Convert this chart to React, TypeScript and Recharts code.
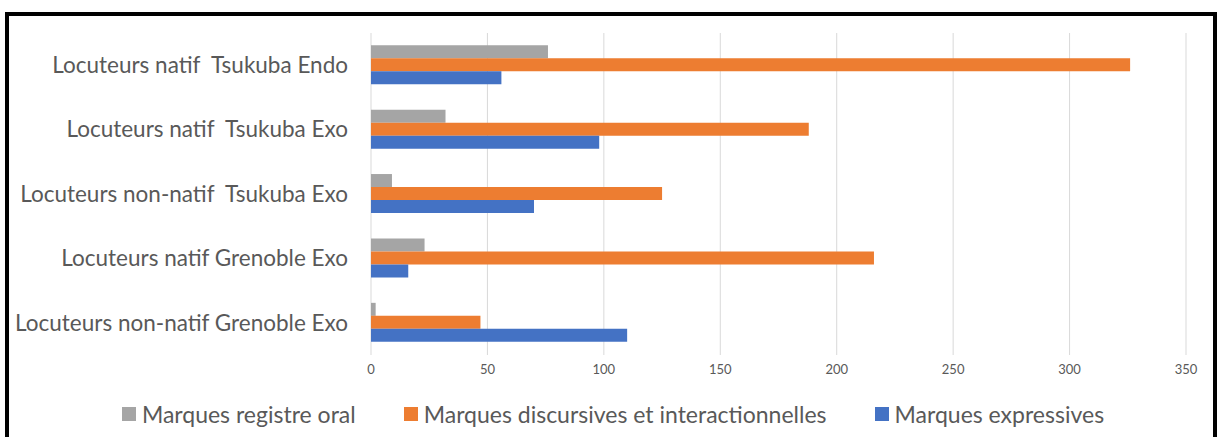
import { BarChart, Bar, XAxis, YAxis, CartesianGrid, Legend } from "recharts";

const CATEGORIES = [
  "Locuteurs natif  Tsukuba Endo",
  "Locuteurs natif  Tsukuba Exo",
  "Locuteurs non-natif  Tsukuba Exo",
  "Locuteurs natif Grenoble Exo",
  "Locuteurs non-natif Grenoble Exo",
];
const ORAL = [76, 32, 9, 23, 2];
const DISCURSIVE = [326, 188, 125, 216, 47];
const EXPRESSIVE = [56, 98, 70, 16, 110];
const X_TICKS = [0, 50, 100, 150, 200, 250, 300, 350];

const SERIES = [
  { key: "oral", name: "Marques registre oral", color: "#A5A5A5" },
  { key: "discursive", name: "Marques discursives et interactionnelles", color: "#ED7D31" },
  { key: "expressive", name: "Marques expressives", color: "#4472C4" },
];

const FONT = "Lato, 'Open Sans', sans-serif";
const TEXT = "#595959";

const data = CATEGORIES.map((c, i) => ({
  name: c,
  oral: ORAL[i],
  discursive: DISCURSIVE[i],
  expressive: EXPRESSIVE[i],
}));

// keep the double spaces of the original labels
function CatTick(props: any) {
  const { x, y, payload } = props;
  return (
    <text
      x={x}
      y={y}
      dy="0.35em"
      textAnchor="end"
      xmlSpace="preserve"
      style={{ whiteSpace: "pre" }}
      fontFamily={FONT}
      fontSize={22.5}
      fill={TEXT}
    >
      {payload.value}
    </text>
  );
}

function LegendBox() {
  return (
    <div style={{ display: "flex", justifyContent: "center", gap: 48, fontFamily: FONT, fontSize: 23, color: TEXT }}>
      {SERIES.map(s => (
        <div key={s.key} style={{ display: "flex", alignItems: "center", gap: 6 }}>
          <span style={{ width: 14, height: 14, background: s.color, display: "inline-block" }} />
          <span>{s.name}</span>
        </div>
      ))}
    </div>
  );
}

export default function App() {
  return (
    <div style={{ position: "absolute", left: 0, top: 0, width: 1220, height: 437, overflow: "hidden", background: "#fff" }}>
      <div style={{ position: "absolute", left: 5, top: 12, width: 1204, height: 440, border: "4px solid #000" }} />
      <div style={{ position: "absolute", left: 0, top: 0 }}>
        <BarChart
          layout="vertical"
          width={1220}
          height={437}
          data={data}
          margin={{ top: 33, right: 34, left: 0, bottom: 52 }}
          barCategoryGap="19%"
          barGap={0}
        >
          <CartesianGrid horizontal={false} stroke="#d9d9d9" strokeWidth={1} />
          <XAxis
            type="number"
            domain={[0, 350]}
            ticks={X_TICKS}
            axisLine={false}
            tickLine={false}
            tickSize={0}
            tickMargin={10}
            height={30}
            tick={{ fontFamily: FONT, fontSize: 13, fill: TEXT }}
          />
          <YAxis
            type="category"
            dataKey="name"
            width={371}
            axisLine={false}
            tickLine={false}
            tickSize={0}
            tickMargin={23}
            tick={<CatTick />}
          />
          <Legend
            layout="horizontal"
            verticalAlign="middle"
            align="center"
            content={() => <LegendBox />}
            wrapperStyle={{ position: "absolute", top: 400, left: 0, width: 1226 }}
          />
          {SERIES.map(s => (
            <Bar key={s.key} dataKey={s.key} name={s.name} fill={s.color} isAnimationActive={false} />
          ))}
        </BarChart>
      </div>
    </div>
  );
}
